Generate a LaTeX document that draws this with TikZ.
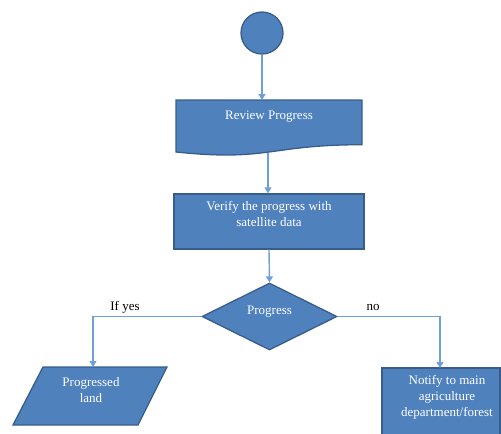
\documentclass[tikz,border=0pt]{standalone}
\usepackage{fontspec}
\setmainfont{Liberation Serif}
\usetikzlibrary{arrows.meta,shapes.geometric}
\definecolor{boxfill}{HTML}{4F81BD}
\definecolor{boxline}{HTML}{385D8A}
\definecolor{arrowc}{HTML}{6E9FD8}
\begin{document}
\begin{tikzpicture}[x=1pt,y=-1pt,
  shp/.style={fill=boxfill, draw=boxline, line width=1.3pt},
  txt/.style={text=white, font=\fontsize{13}{16}\selectfont, align=center, inner sep=0pt},
  conn/.style={draw=arrowc, line width=1.4pt, -{Triangle[length=6pt,width=7pt]}},
  lbl/.style={text=black, font=\fontsize{13}{15}\selectfont, inner sep=0pt}]
\useasboundingbox (0,0) rectangle (501,434);
\clip (0,0) rectangle (501,434);

% start circle
\node[shp, circle, minimum size=42pt, inner sep=0pt] (start) at (262,33) {};

% Review Progress (document shape)
\coordinate (revtop) at (269,100);
\coordinate (revout) at (268,152.5);
\draw[shp] (176,100) -- (362,100) -- (362,144.7)
  .. controls (269,144.7) and (269,161.7) .. (176,152) -- cycle;
\node[txt] (review) at (269,117) {Review Progress};

% Verify box
\node[shp, rectangle, minimum width=190pt, minimum height=55pt, inner sep=0pt] (verify) at (269,221.5) {};
\node[txt] (verifytxt) at (269,214) {Verify the progress with\\satellite data};

% decision diamond
\node[shp, diamond, minimum width=135pt, minimum height=67pt, inner sep=0pt] (dec) at (269.5,316.5) {};
\node[txt] (dectxt) at (269.5,312) {Progress};

% Progressed land (parallelogram)
\coordinate (landin) at (93,367);
\draw[shp] (43,367) -- (167,367) -- (138,425) -- (13,425) -- cycle;
\node[txt] (land) at (91,390) {Progressed\\land};

% Notify box
\coordinate (notin) at (440,368);
\draw[shp] (382,368) rectangle (500,470);
\node[txt] (notify) at (447,397) {Notify to main\\agriculture\\department/forest};

% connectors
\draw[conn] (start.south) -- (start.south |- revtop);
\draw[conn] (revout) -- (revout |- verify.north);
\draw[conn] (verify.south) -- (dec.north);
\draw[conn] (dec.west) -| (landin);
\draw[conn] (dec.east) -| (notin);

% labels
\node[lbl] (yes) at (125,307) {If yes};
\node[lbl] (no) at (373,307) {no};
\end{tikzpicture}
\end{document}
